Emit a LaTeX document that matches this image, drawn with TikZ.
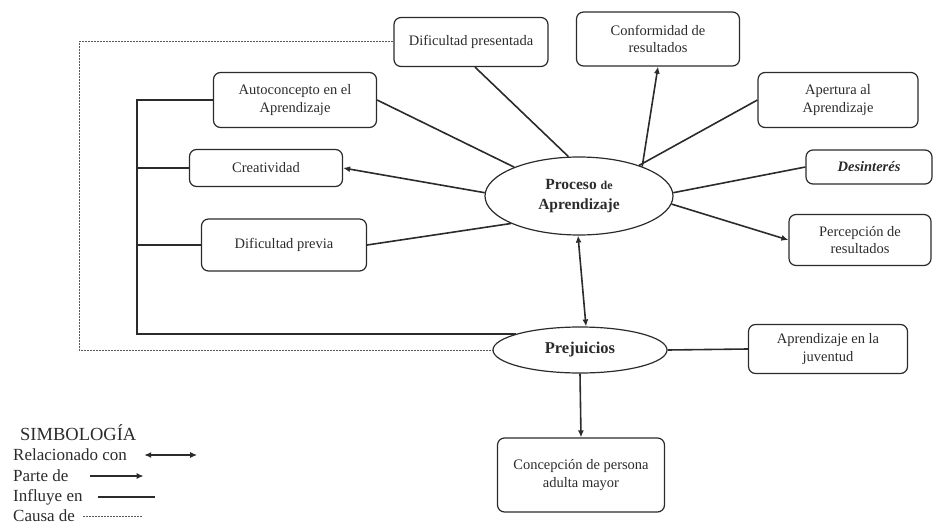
\documentclass[tikz,border=0pt]{standalone}
\usepackage{fontspec}
\setmainfont{Liberation Serif}
\usetikzlibrary{shapes.geometric}
\usetikzlibrary{arrows.meta}
\definecolor{ink}{HTML}{2B2B2B}
\tikzset{
	concept/.style={
		draw=ink,
		text=ink,
		rounded corners=7pt,
		line width=1.2pt,
		align=center,
		inner sep=0,
		font=\fontsize{14.5}{17.5}\selectfont,
	},
	hub/.style={
		ellipse,
		draw=ink,
		text=ink,
		line width=1.2pt,
		align=center,
		inner sep=0,
		font=\bfseries,
	},
	edge/.style={
		draw=ink,
		line width=1.6pt,
	},
	part/.style={
		edge,
		-{Latex[length=7pt,width=6pt]},
	},
	rel/.style={
		edge,
		{Latex[length=7pt,width=6pt]}-{Latex[length=7pt,width=6pt]},
	},
	cause/.style={
		draw=gray!70!black,
		line width=1pt,
		dash pattern=on 2pt off 1pt,
	},
	legend/.style={
		anchor=west,
		text=ink,
		inner sep=0,
		font=\fontsize{17}{20}\selectfont,
	}
}
\begin{document}
\begin{tikzpicture}[x=1pt,y=-1pt]
	\useasboundingbox (0,0) rectangle (936,524);

	\node[hub, minimum width=188pt, minimum height=78pt, font=\fontsize{15.5}{20}\selectfont\bfseries] (proc) at (579,196) {Proceso {\fontsize{12}{14}\selectfont de}\\Aprendizaje};
	\node[hub, minimum width=174pt, minimum height=46pt, font=\fontsize{16.5}{20}\selectfont\bfseries] (prej) at (580,350) {Prejuicios};

	\node[concept, minimum width=154pt, minimum height=49pt] (dp) at (471,42) {Dificultad presentada};
	\node[concept, minimum width=163pt, minimum height=54pt] (conf) at (658,39) {Conformidad de\\resultados};
	\node[concept, minimum width=160pt, minimum height=55pt] (aper) at (838,100) {Apertura al\\Aprendizaje};
	\node[concept, minimum width=126pt, minimum height=34pt, font=\fontsize{14.5}{17.5}\selectfont\bfseries\itshape] (desin) at (869,167) {Desinterés};
	\node[concept, minimum width=142pt, minimum height=51pt] (perc) at (860,240) {Percepción de\\resultados};
	\node[concept, minimum width=163pt, minimum height=55pt] (auto) at (295,100) {Autoconcepto en el\\Aprendizaje};
	\node[concept, minimum width=153pt, minimum height=37pt] (crea) at (266,168) {Creatividad};
	\node[concept, minimum width=165pt, minimum height=52pt] (dprev) at (284,245) {Dificultad previa};
	\node[concept, minimum width=159pt, minimum height=49pt] (juv) at (828,349) {Aprendizaje en la\\juventud};
	\node[concept, minimum width=167pt, minimum height=74pt] (conc) at (581,475) {Concepción de persona\\adulta mayor};

	\coordinate (lb) at (137,334);
	\coordinate (dl) at (79,350);

	\draw[edge] ([xshift=4pt]dp.south) -- (proc.105);
	\draw[part] (proc.25) -- (conf.south);
	\draw[edge] (proc.27) -- (aper.west);
	\draw[edge] (proc.2) -- (desin.west);
	\draw[part] (proc.-5) -- (perc.west);
	\draw[edge] (auto.east) -- (proc.156);
	\draw[part] (proc.178) -- (crea.east);
	\draw[edge] (dprev.east) -- (proc.202);
	\draw[rel] ([xshift=-1pt]proc.south) -- ([xshift=6pt]prej.north);
	\draw[part] (prej.south) -- (conc.north);
	\draw[edge] (prej.east) -- (juv.west);

	\draw[edge] (auto.west) -- (auto.west -| lb) -- (lb) -- (lb -| prej.166);
	\draw[edge] (crea.west) -- (crea.west -| lb);
	\draw[edge] (dprev.west) -- (dprev.west -| lb);
	\draw[cause] (dp.west) -| (dl) -- (prej.west);

	\node[legend, font=\fontsize{18.5}{20}\selectfont] (simb) at (20,433) {SIMBOLOGÍA};
	\node[legend] (lrel) at (13,455) {Relacionado con};
	\node[legend] (lpart) at (13,476) {Parte de};
	\node[legend] (linf) at (13,497) {Influye en};
	\node[legend] (lcau) at (13,516) {Causa de};

	\draw[rel] ([xshift=17pt]lrel.east) -- ++(53,0);
	\draw[part] ([xshift=21pt]lpart.east) -- ++(54,0);
	\draw[edge] ([xshift=15pt]linf.east) -- ++(57,0);
	\draw[cause] ([xshift=8pt]lcau.east) -- ++(60,0);

\end{tikzpicture}
\end{document}
